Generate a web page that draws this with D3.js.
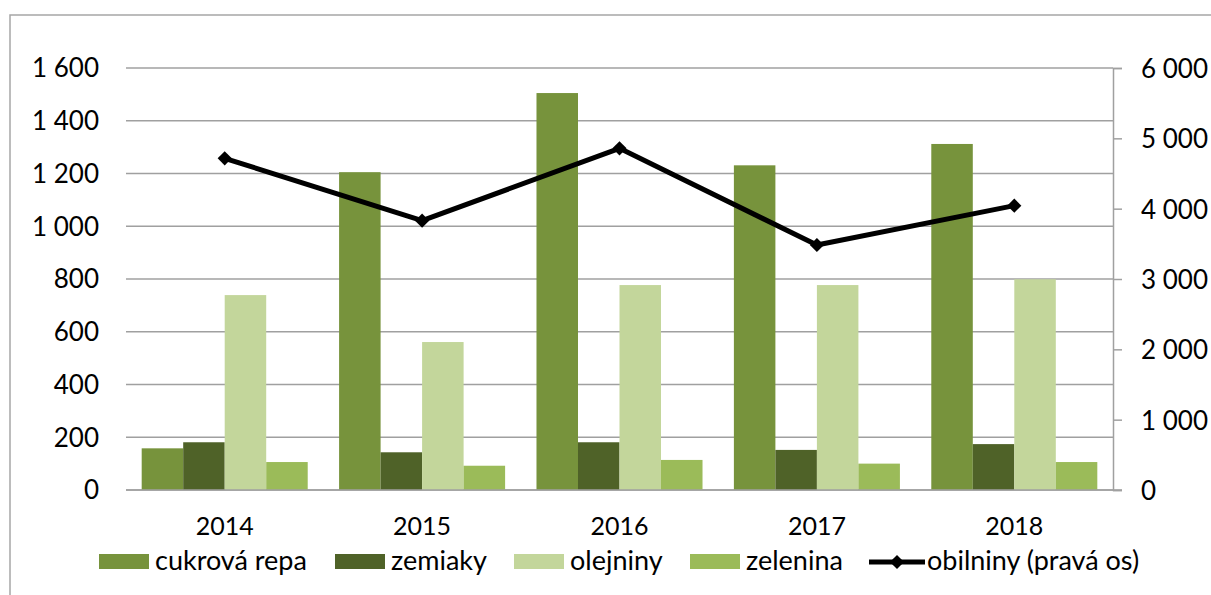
<!DOCTYPE html>
<html><head><meta charset="utf-8">
<script src="https://cdn.jsdelivr.net/npm/d3@7"></script>
<style>
html,body{margin:0;padding:0;background:#fff;}
svg{display:block;}
text{font-family:Lato,"Open Sans",sans-serif;fill:#000;}
</style></head>
<body>
<script>
const years = ["2014","2015","2016","2017","2018"];
const seriesNames = ["cukrová repa","zemiaky","olejniny","zelenina"];
const cukrovaRepa = [158, 1205, 1505, 1231, 1312];
const zemiaky = [181, 143, 181, 152, 174];
const olejniny = [739, 561, 777, 777, 799];
const zelenina = [106, 92, 114, 100, 106];
const obilniny = [4716, 3829, 4858, 3483, 4043];
const lineName = "obilniny (pravá os)";
const leftTicks = [0,200,400,600,800,1000,1200,1400,1600];
const rightTicks = [0,1000,2000,3000,4000,5000,6000];
const colors = ["#77933C","#4F6228","#C3D69B","#9BBB59"];

const W = 1211, H = 595;
const svg = d3.select("body").append("svg").attr("width",W).attr("height",H);

// outer frame
svg.append("rect").attr("x",10).attr("y",15).attr("width",W+20).attr("height",H+20)
  .attr("fill","none").attr("stroke","#a6a6a6").attr("stroke-width",1.5);

const x0 = 126, x1 = 1113, yTop = 68, yBot = 490;
const x = d3.scaleBand().domain(years).range([x0,x1]).paddingInner(0).paddingOuter(0);
const inner = d3.scaleBand().domain(d3.range(4)).range([0,x.bandwidth()]).paddingOuter(0.378).paddingInner(0);
const yL = d3.scaleLinear().domain([0,1600]).range([yBot,yTop]);
const yR = d3.scaleLinear().domain([0,6000]).range([yBot,yTop]);

// gridlines
svg.append("g").selectAll("line").data(leftTicks).join("line")
  .attr("x1",x0).attr("x2",x1).attr("y1",d=>yL(d)).attr("y2",d=>yL(d))
  .attr("stroke","#a0a0a0").attr("stroke-width",1.3);

// left axis labels
const fmt = d => d3.format(",")(d).replace(/,/g," ");
svg.append("g").selectAll("text").data(leftTicks).join("text")
  .attr("x",99).attr("y",d=>yL(d)).attr("dy","0.36em").attr("text-anchor","end")
  .style("font-size","26px").text(fmt);

// bars
const allSeries = [cukrovaRepa, zemiaky, olejniny, zelenina];
allSeries.forEach((vals,si)=>{
  svg.append("g").selectAll("rect").data(vals).join("rect")
    .attr("x",(d,i)=>x(years[i])+inner(si))
    .attr("width",inner.bandwidth())
    .attr("y",d=>yL(d))
    .attr("height",d=>yBot-yL(d))
    .attr("fill",colors[si]);
});

// baseline & right axis
svg.append("line").attr("x1",x0).attr("x2",x1+9).attr("y1",yBot).attr("y2",yBot)
  .attr("stroke","#a0a0a0").attr("stroke-width",1.5);
const rAxis = d3.axisRight(yR).tickValues(rightTicks).tickSize(9).tickFormat(fmt);
const gR = svg.append("g").attr("transform",`translate(${x1},0)`).call(rAxis);
gR.select(".domain").attr("stroke","#a0a0a0").attr("stroke-width",1.5);
gR.selectAll(".tick line").attr("stroke","#a0a0a0").attr("stroke-width",1.5);
gR.selectAll(".tick text").attr("x",28).attr("dy","0.36em").style("font-size","26px")
  .style("font-family","Lato,'Open Sans',sans-serif").attr("fill","#000");

// x labels
svg.append("g").selectAll("text").data(years).join("text")
  .attr("x",d=>x(d)+x.bandwidth()/2).attr("y",535).attr("text-anchor","middle")
  .style("font-size","25px").text(d=>d);

// line
const cx = i => x(years[i])+x.bandwidth()/2;
const line = d3.line().x((d,i)=>cx(i)).y(d=>yR(d));
svg.append("path").datum(obilniny).attr("d",line).attr("fill","none")
  .attr("stroke","#000").attr("stroke-width",5).attr("stroke-linejoin","round");
svg.append("g").selectAll("path").data(obilniny).join("path")
  .attr("transform",(d,i)=>`translate(${cx(i)},${yR(d)}) rotate(45)`)
  .attr("d",d3.symbol().type(d3.symbolSquare).size(100)).attr("fill","#000");

// legend
const legX = [99, 335, 514, 690];
const lg = svg.append("g");
seriesNames.forEach((n,i)=>{
  lg.append("rect").attr("x",legX[i]).attr("y",554).attr("width",50).attr("height",15).attr("fill",colors[i]);
  lg.append("text").attr("x",legX[i]+56).attr("y",570).style("font-size","27px").text(n);
});
lg.append("line").attr("x1",869).attr("x2",925).attr("y1",562).attr("y2",562)
  .attr("stroke","#000").attr("stroke-width",5);
lg.append("path").attr("transform","translate(897,562) rotate(45)")
  .attr("d",d3.symbol().type(d3.symbolSquare).size(100)).attr("fill","#000");
lg.append("text").attr("x",927).attr("y",570).style("font-size","27px").text(lineName);
</script>
</body></html>
